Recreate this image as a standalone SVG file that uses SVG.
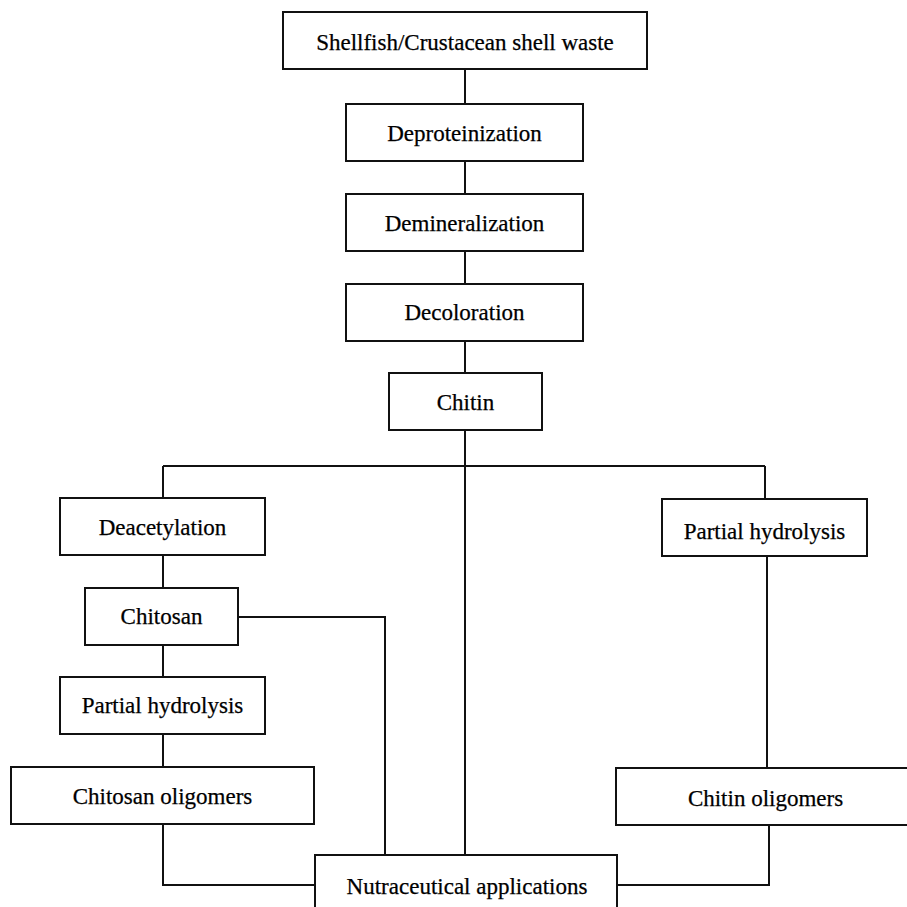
<svg xmlns="http://www.w3.org/2000/svg" width="907" height="907" viewBox="0 0 907 907">
<style>
rect{fill:#fff;stroke:#111;stroke-width:2}
text{font-family:"Liberation Serif","Times New Roman",serif;font-size:23px;fill:#000;stroke:#000;stroke-width:0.25;text-anchor:middle}
#connectors path{fill:none;stroke:#111;stroke-width:2}
</style>
<rect x="0" y="0" width="907" height="907" style="stroke:none"/>
<g id="connectors">
<path d="M465 69V104M465 161V194M465 251V284M465 341V373M465 430V855"/>
<path d="M163 466H765M163 466V498M765 466V499"/>
<path d="M163 555V588M163 645V677M163 734V767M163 824V885H315"/>
<path d="M238 617H385V855"/>
<path d="M767 556V768M769 825V885H617"/>
</g>
<g id="n1"><rect x="283" y="12" width="364" height="57"/><text x="465" y="50">Shellfish/Crustacean shell waste</text></g>
<g id="n2"><rect x="346" y="104" width="237" height="57"/><text x="464.5" y="141">Deproteinization</text></g>
<g id="n3"><rect x="346" y="194" width="237" height="57"/><text x="464.5" y="231">Demineralization</text></g>
<g id="n4"><rect x="346" y="284" width="237" height="57"/><text x="464.5" y="320">Decoloration</text></g>
<g id="n5"><rect x="389" y="373" width="153" height="57"/><text x="465.5" y="410">Chitin</text></g>
<g id="n6"><rect x="60" y="498" width="205" height="57"/><text x="162.5" y="535">Deacetylation</text></g>
<g id="n7"><rect x="85" y="588" width="153" height="57"/><text x="161.5" y="624">Chitosan</text></g>
<g id="n8"><rect x="60" y="677" width="205" height="57"/><text x="162.5" y="713">Partial hydrolysis</text></g>
<g id="n9"><rect x="11" y="767" width="303" height="57"/><text x="162.5" y="804">Chitosan oligomers</text></g>
<g id="n10"><rect x="662" y="499" width="205" height="57"/><text x="764.5" y="539">Partial hydrolysis</text></g>
<g id="n11"><rect x="616" y="768" width="300" height="57"/><text x="765.5" y="806">Chitin oligomers</text></g>
<g id="n12"><rect x="315" y="855" width="302" height="70"/><text x="467" y="894">Nutraceutical applications</text></g>
</svg>
